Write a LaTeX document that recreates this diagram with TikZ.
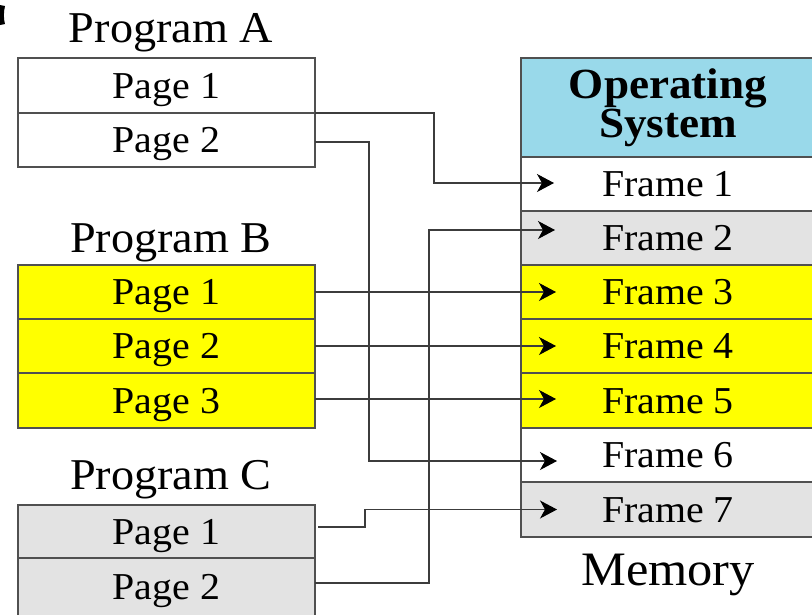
\documentclass[tikz,border=0pt]{standalone}
\usepackage{fontspec}
\setmainfont{Liberation Serif}
\usetikzlibrary{arrows.meta,calc}

\definecolor{osblue}{HTML}{99D9EA}
\definecolor{cellgray}{HTML}{E3E3E3}
\definecolor{cellyellow}{HTML}{FFFF00}
\definecolor{edge}{HTML}{505050}
\definecolor{wire}{HTML}{3C3C3C}

% slightly widened lettering
\newcommand{\wide}[1]{\scalebox{1.05}[1]{#1}}

\tikzset{
  cell/.style={draw=edge, line width=1.2pt, inner sep=0pt, outer sep=0pt,
    minimum height=54pt, text height=25pt, text depth=0pt,
    font=\fontsize{38}{40}\selectfont},
  pagecell/.style={cell, minimum width=297pt},
  framecell/.style={cell, minimum width=294pt},
  title/.style={anchor=base, inner sep=0pt, font=\fontsize{44}{46}\selectfont},
  link/.style={draw=wire, line width=1.1pt,
    -{Stealth[length=17pt,width=18pt,inset=5pt,color=black]}},
}

\begin{document}
\begin{tikzpicture}[x=1pt,y=-1pt]
\useasboundingbox (0,0) rectangle (812,614);
\clip (0,0) rectangle (812,614);

% small mark in the corner
\fill (0,5) -- (5,6) .. controls (3.5,12) and (3.5,19) .. (5,24) -- (0,25) -- cycle;

% Program A
\node[title] (tA) at (171,42) {\wide{Program A}};
\node[pagecell, fill=white, minimum height=55pt] (A1) at (166.5,85.5) {\wide{Page 1}};
\node[pagecell, fill=white] (A2) at (166.5,140) {\wide{Page 2}};

% Program B
\node[title] (tB) at (171,252) {\wide{Program B}};
\node[pagecell, fill=cellyellow] (B1) at (166.5,292) {\wide{Page 1}};
\node[pagecell, fill=cellyellow] (B2) at (166.5,346) {\wide{Page 2}};
\node[pagecell, fill=cellyellow, minimum height=55pt] (B3) at (166.5,400.5) {\wide{Page 3}};

% Program C
\node[title] (tC) at (171,489) {\wide{Program C}};
\node[pagecell, fill=cellgray] (C1) at (166.5,532) {\wide{Page 1}};
\node[pagecell, fill=cellgray, minimum height=58pt] (C2) at (166.5,587) {\wide{Page 2}};

% Memory
\node[framecell, fill=osblue, minimum height=99pt, text height=, text depth=,
  align=center, font=\fontsize{43}{35}\selectfont\bfseries] (OS) at (668,107.5)
  {\wide{Operating}\\\wide{System}};
\node[framecell, fill=white] (F1) at (668,184) {\wide{Frame 1}};
\node[framecell, fill=cellgray] (F2) at (668,238) {\wide{Frame 2}};
\node[framecell, fill=cellyellow] (F3) at (668,292) {\wide{Frame 3}};
\node[framecell, fill=cellyellow] (F4) at (668,346) {\wide{Frame 4}};
\node[framecell, fill=cellyellow, minimum height=55pt] (F5) at (668,400.5) {\wide{Frame 5}};
\node[framecell, fill=white] (F6) at (668,455) {\wide{Frame 6}};
\node[framecell, fill=cellgray, minimum height=55pt] (F7) at (668,509.5) {\wide{Frame 7}};
\node[anchor=base, inner sep=0pt, font=\fontsize{48}{50}\selectfont] (mem) at (668,585) {\wide{Memory}};

% arrow tips inside the frames
\coordinate (t1) at ([xshift=33pt,yshift=1pt]F1.west);
\coordinate (t2) at ([xshift=34pt,yshift=8pt]F2.west);
\coordinate (t3) at ([xshift=35pt]F3.west);
\coordinate (t4) at ([xshift=35pt]F4.west);
\coordinate (t5) at ([xshift=35pt,yshift=1.5pt]F5.west);
\coordinate (t6) at ([xshift=36pt,yshift=-6pt]F6.west);
\coordinate (t7) at ([xshift=36pt]F7.west);

% page table mappings
\draw[link] (A1.south east) -| ([xshift=-120pt]t1) -- (t1);
\draw[link] ([yshift=-2pt]A2.east) -| ([xshift=-188pt]t6) -- (t6);
\draw[link] (B1.east) -- (t3);
\draw[link] (B2.east) -- (t4);
\draw[link] ([yshift=1.5pt]B3.east) -- (t5);
\draw[link] ([xshift=3pt,yshift=5pt]C1.east) -| ([xshift=-192pt]t7) -- (t7);
\draw[link] ([yshift=4pt]C2.east) -| ([xshift=-126pt]t2) -- (t2);
\end{tikzpicture}
\end{document}
